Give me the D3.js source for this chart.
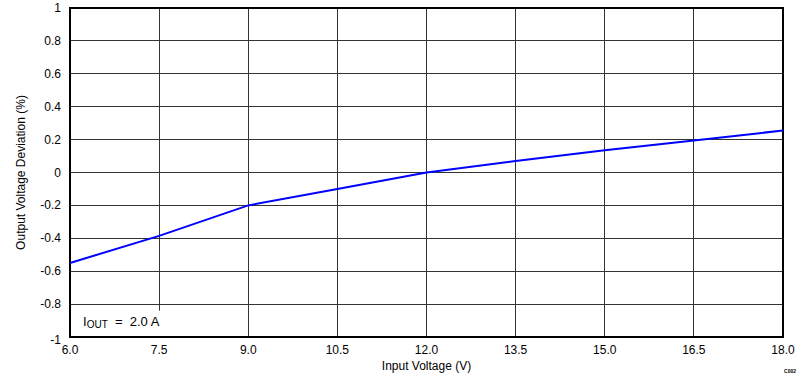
<!DOCTYPE html>
<html lang="en">
<head>
<meta charset="UTF-8">
<script src="https://cdn.jsdelivr.net/npm/d3@7/dist/d3.min.js"></script>
<style>
  body { margin: 0; background: #fff; }
  text { font-family: "Liberation Sans", Arial, sans-serif; }
</style>
</head>
<body>
<div id="chart"></div>
<script>
// Input voltage (V) vs output voltage deviation (%)
const inputVoltage = [6.0, 7.5, 9.0, 10.5, 12.0, 13.5, 15.0, 16.5, 18.0];
const deviation    = [-0.55, -0.385, -0.2, -0.1, 0.0, 0.07, 0.135, 0.195, 0.255];
const xTicks = [6.0, 7.5, 9.0, 10.5, 12.0, 13.5, 15.0, 16.5, 18.0];
const yTicks = [-1, -0.8, -0.6, -0.4, -0.2, 0, 0.2, 0.4, 0.6, 0.8, 1];

const width = 803, height = 382;
const margin = { top: 8, right: 20, bottom: 45, left: 70 };

const svg = d3.select("#chart").append("svg")
  .attr("width", width)
  .attr("height", height);

const x = d3.scaleLinear().domain([6, 18]).range([margin.left, width - margin.right]);
const y = d3.scaleLinear().domain([-1, 1]).range([height - margin.bottom, margin.top]);

// grid
svg.append("g")
  .selectAll("line")
  .data(yTicks.slice(1, -1))
  .join("line")
    .attr("x1", x(6)).attr("x2", x(18))
    .attr("y1", d => y(d)).attr("y2", d => y(d))
    .attr("stroke", "#333").attr("stroke-width", 1)
    .attr("shape-rendering", "crispEdges");

svg.append("g")
  .selectAll("line")
  .data(xTicks.slice(1, -1))
  .join("line")
    .attr("x1", d => x(d)).attr("x2", d => x(d))
    .attr("y1", y(-1)).attr("y2", y(1))
    .attr("stroke", "#333").attr("stroke-width", 1)
    .attr("shape-rendering", "crispEdges");

// white box behind the annotation
svg.append("rect")
  .attr("x", x(6) + 1)
  .attr("y", y(-0.84))
  .attr("width", x(7.5) - x(6) + 5)
  .attr("height", y(-1) - y(-0.84) - 1)
  .attr("fill", "#fff");

// frame
svg.append("rect")
  .attr("x", x(6)).attr("y", y(1))
  .attr("width", x(18) - x(6)).attr("height", y(-1) - y(1))
  .attr("fill", "none").attr("stroke", "#000").attr("stroke-width", 1.3)
  .attr("shape-rendering", "crispEdges");

// data line
svg.append("path")
  .datum(inputVoltage.map((v, i) => [v, deviation[i]]))
  .attr("fill", "none")
  .attr("stroke", "#0000ff")
  .attr("stroke-width", 2)
  .attr("d", d3.line().x(d => x(d[0])).y(d => y(d[1])));

// tick labels
svg.append("g")
  .selectAll("text")
  .data(yTicks)
  .join("text")
    .attr("x", x(6) - 9)
    .attr("y", d => y(d) + (d === -1 ? 7 : 4))
    .attr("text-anchor", "end")
    .attr("font-size", 12)
    .text(d => String(d));

svg.append("g")
  .selectAll("text")
  .data(xTicks)
  .join("text")
    .attr("x", d => x(d))
    .attr("y", y(-1) + 17)
    .attr("text-anchor", "middle")
    .attr("font-size", 12)
    .text(d => d.toFixed(1));

// axis titles
svg.append("text")
  .attr("x", (x(6) + x(18)) / 2)
  .attr("y", height - 12)
  .attr("text-anchor", "middle")
  .attr("font-size", 12)
  .text("Input Voltage (V)");

svg.append("text")
  .attr("transform", `translate(25, ${(y(-1) + y(1)) / 2}) rotate(-90)`)
  .attr("text-anchor", "middle")
  .attr("font-size", 12)
  .text("Output Voltage Deviation (%)");

// annotation
const note = svg.append("text")
  .attr("x", x(6) + 13)
  .attr("y", y(-0.9) + 5)
  .attr("font-size", 13);
note.append("tspan").text("I");
note.append("tspan").attr("font-size", 10).attr("dy", 2).text("OUT");
note.append("tspan").attr("dy", -2).text("\u00a0\u00a0=\u00a0\u00a02.0 A");

// figure id
svg.append("text")
  .attr("x", width - 7)
  .attr("y", height - 9)
  .attr("text-anchor", "end")
  .attr("font-size", 5)
  .attr("font-weight", "bold")
  .text("C002");
</script>
</body>
</html>
